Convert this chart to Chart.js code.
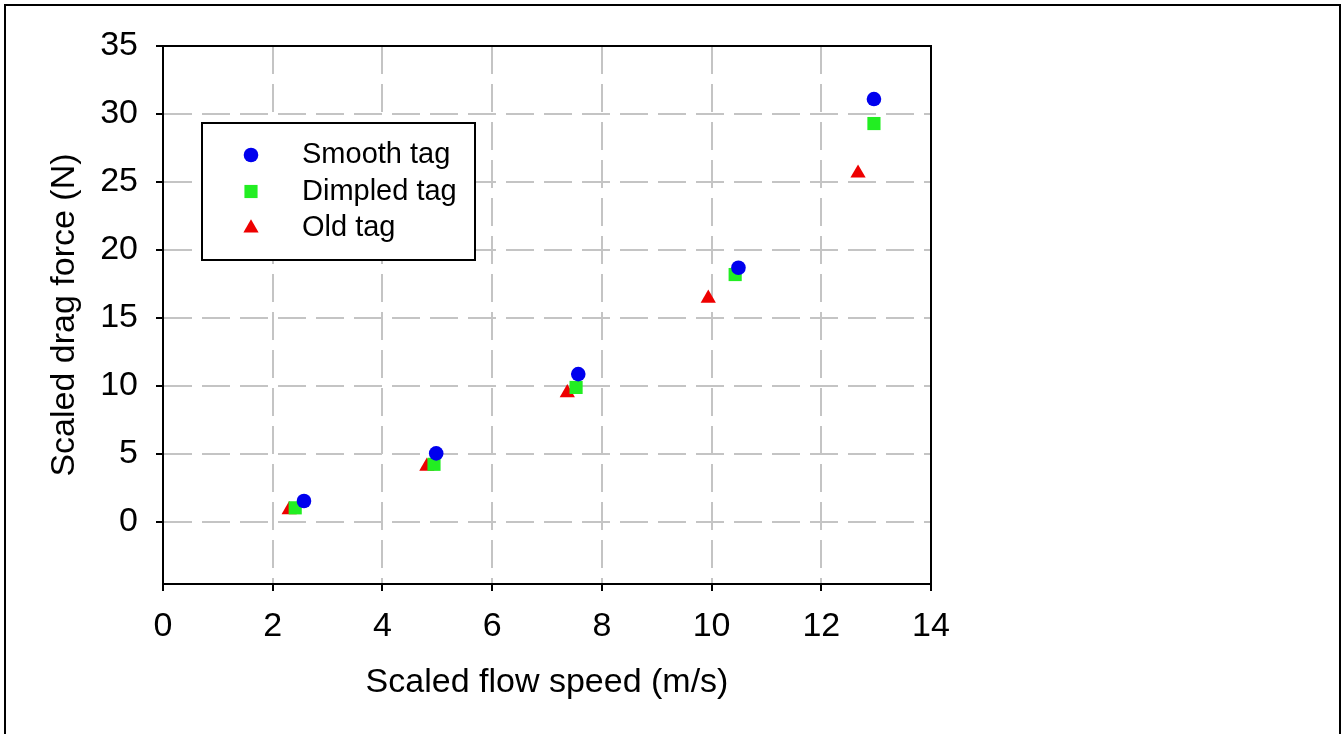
<!DOCTYPE html>
<html>
<head>
<meta charset="utf-8">
<script src="https://cdn.jsdelivr.net/npm/chart.js@4/dist/chart.umd.min.js"></script>
<style>
  html, body { margin: 0; padding: 0; background: #fff; overflow: hidden; }
  #wrap { position: relative; width: 1343px; height: 734px; }
  #frame { position: absolute; left: 4px; top: 4px; width: 1333px; height: 800px; border: 2px solid #000; pointer-events: none; }
</style>
</head>
<body>
<div id="wrap">
  <canvas id="chart" width="1343" height="734"></canvas>
  <div id="frame"></div>
</div>
<script>
const seriesLabels = ['Smooth tag', 'Dimpled tag', 'Old tag'];
const smoothX = [2.57, 4.98, 7.57, 10.49, 12.96];
const smoothY = [1.55, 5.05, 10.88, 18.7, 31.1];
const dimpledX = [2.41, 4.94, 7.53, 10.43, 12.96];
const dimpledY = [1.05, 4.25, 9.9, 18.2, 29.3];
const oldX = [2.30, 4.81, 7.37, 9.94, 12.67];
const oldY = [0.9, 4.1, 9.5, 16.45, 25.65];
const yTicks = [0, 5, 10, 15, 20, 25, 30, 35];

const FONT = "'Liberation Sans', Arial, sans-serif";
const pts = (xs, ys) => xs.map((x, i) => ({ x, y: ys[i] }));

// box around the plot + legend box in the upper left
const framePlugin = {
  id: 'frameAndLegend',
  afterDraw(chart) {
    const { ctx, chartArea: a } = chart;
    ctx.save();
    ctx.strokeStyle = '#000';
    ctx.lineWidth = 2;
    ctx.strokeRect(a.left, a.top, a.right - a.left, a.bottom - a.top);

    const bx = 202, by = 123, bw = 273, bh = 137;
    ctx.fillStyle = '#fff';
    ctx.fillRect(bx, by, bw, bh);
    ctx.strokeRect(bx, by, bw, bh);
    ctx.font = '29px ' + FONT;
    ctx.textBaseline = 'middle';
    ctx.textAlign = 'left';
    chart.data.datasets.forEach((ds, i) => {
      const y = 155 + i * 36.5;
      ctx.fillStyle = ds.backgroundColor;
      Chart.helpers.drawPoint(ctx, { pointStyle: ds.pointStyle, radius: ds.pointRadius, rotation: 0, borderWidth: 0 }, 251, y);
      ctx.fillStyle = '#000';
      ctx.fillText(ds.label, 302, y);
    });
    ctx.restore();
  }
};

new Chart(document.getElementById('chart'), {
  type: 'scatter',
  data: {
    datasets: [
      { label: seriesLabels[0], data: pts(smoothX, smoothY), pointStyle: 'circle', pointRadius: 7.3, backgroundColor: '#0000ee', borderWidth: 0 },
      { label: seriesLabels[1], data: pts(dimpledX, dimpledY), pointStyle: 'rect', pointRadius: 9.3, backgroundColor: '#22ee22', borderWidth: 0 },
      { label: seriesLabels[2], data: pts(oldX, oldY), pointStyle: 'triangle', pointRadius: 8.8, backgroundColor: '#ee0000', borderWidth: 0 }
    ]
  },
  options: {
    responsive: false,
    animation: false,
    layout: { padding: { top: 46, right: 412, left: 0, bottom: 0 } },
    plugins: { legend: { display: false }, tooltip: { enabled: false } },
    scales: {
      x: {
        type: 'linear',
        min: 0, max: 14,
        ticks: { stepSize: 2, color: '#000', font: { family: FONT, size: 34 }, padding: 15 },
        grid: { color: '#c4c4c4', lineWidth: 2, tickLength: 7, tickColor: '#000', tickWidth: 2 },
        border: { display: true, color: '#000', width: 2, dash: [28, 10] },
        title: { display: true, text: 'Scaled flow speed (m/s)', color: '#000', font: { family: FONT, size: 34 }, padding: { top: 0, bottom: 31 } },
        afterFit(s) { s.height = 150; }
      },
      y: {
        type: 'linear',
        min: -4.55, max: 35,
        afterBuildTicks(s) { s.ticks = yTicks.map(v => ({ value: v })); },
        ticks: { color: '#000', font: { family: FONT, size: 34 }, padding: 18 },
        grid: { color: '#c4c4c4', lineWidth: 2, tickLength: 7, tickColor: '#000', tickWidth: 2 },
        border: { display: true, color: '#000', width: 2, dash: [28, 10] },
        title: { display: true, text: 'Scaled drag force (N)', color: '#000', font: { family: FONT, size: 34 }, padding: { top: 44, bottom: 0 } },
        afterFit(s) { s.width = 163; }
      }
    }
  },
  plugins: [framePlugin]
});
</script>
</body>
</html>
